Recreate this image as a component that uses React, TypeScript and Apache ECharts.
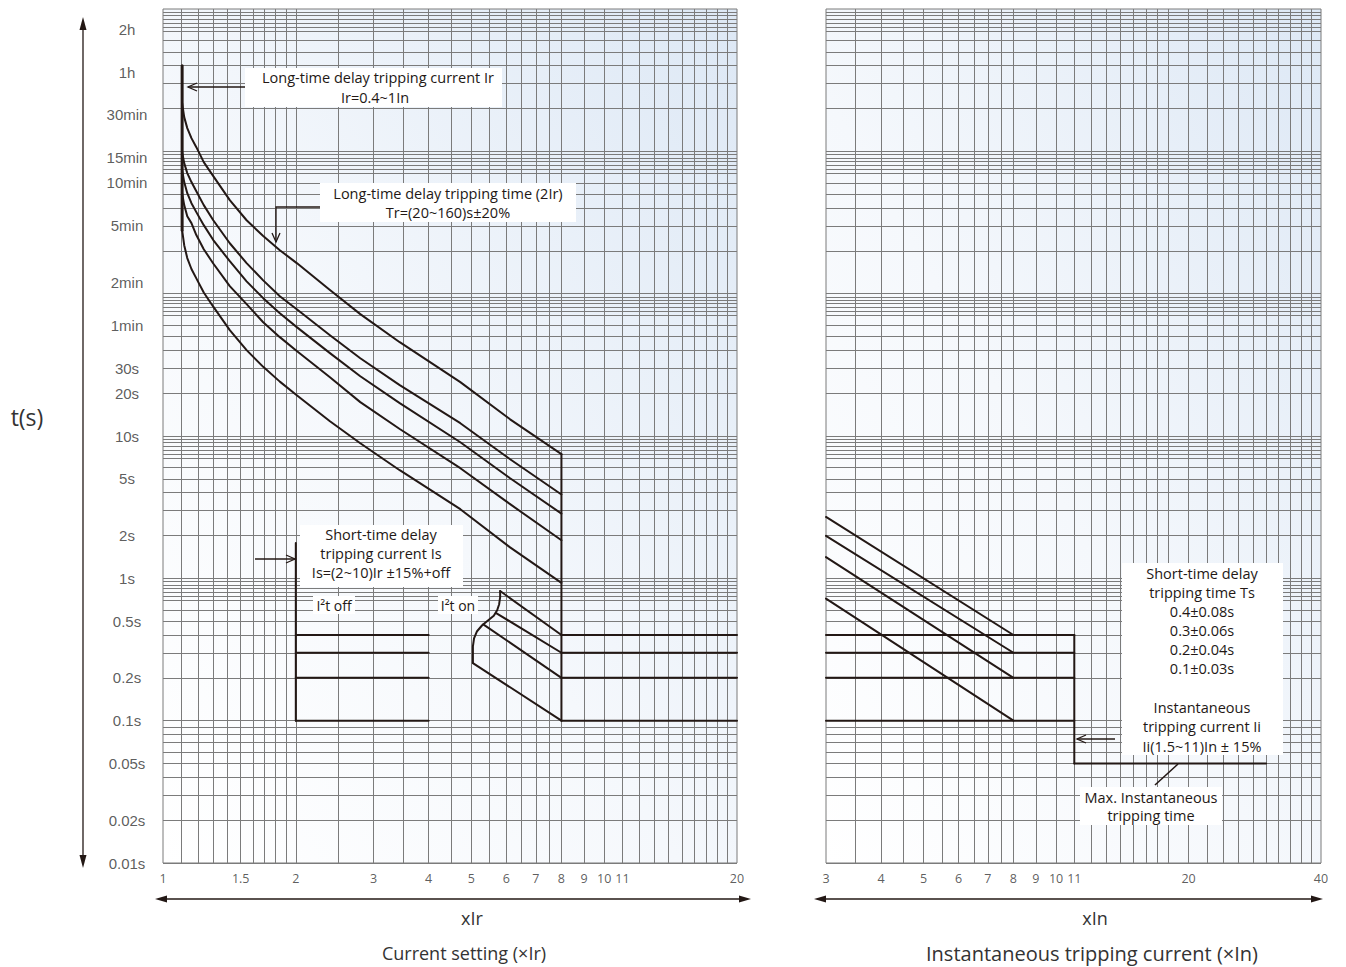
import React, { useEffect, useRef } from "react";
import * as echarts from "echarts";

// ---------- tick labels ----------
const yTickValues = [7200, 3600, 1800, 900, 600, 300, 120, 60, 30, 20, 10, 5, 2, 1, 0.5, 0.2, 0.1, 0.05, 0.02, 0.01];
const yTickLabels = ["2h", "1h", "30min", "15min", "10min", "5min", "2min", "1min", "30s", "20s", "10s", "5s", "2s", "1s", "0.5s", "0.2s", "0.1s", "0.05s", "0.02s", "0.01s"];
const leftXTicks = [1, 1.5, 2, 3, 4, 5, 6, 7, 8, 9, 10, 11, 20];
const rightXTicks = [3, 4, 5, 6, 7, 8, 9, 10, 11, 20, 40];

// ---------- log paper grid ----------
const gridDecades = [0.01, 0.1, 1, 10, 100, 1000];
const gridMultipliers = [1, 2, 3, 4, 5, 6, 7, 7.5, 8, 8.5, 9, 9.5];
const leftGridX = [1.1, 1.2, 1.3, 1.4, 1.5, 1.6, 1.7, 1.8, 1.9, 2, 2.5, 3, 3.5, 4, 4.5, 5, 5.5, 6, 6.5, 7, 7.5, 8, 9, 10, 11, 12, 13, 14, 15, 16, 17, 18, 19];
const rightGridX = [3.5, 4, 4.5, 5, 5.5, 6, 6.5, 7, 7.5, 8, 9, 10, 11, 12, 13, 14, 15, 16, 17, 18, 20, 22, 24, 26, 28, 30, 32, 34, 36, 38];

// ---------- long-time delay (left panel) ----------
const longTimeVertical = [[1.105, 4000], [1.105, 279]];
const curveTr20 = [[1.105, 279], [1.117, 219], [1.135, 178], [1.16, 149], [1.19, 128], [1.237, 102], [1.3, 81], [1.417, 55.4], [1.547, 40.1], [1.687, 30.6], [1.84, 24.1], [2.01, 19.35], [2.39, 12.7], [2.8, 8.9], [3.44, 5.75], [4.72, 3.06], [6.12, 1.65], [8, 0.93]];
const curveTr40 = [[1.105, 508], [1.117, 419], [1.135, 350], [1.16, 313], [1.19, 258], [1.237, 205], [1.3, 163], [1.417, 113], [1.547, 84.4], [1.687, 63], [1.84, 49.5], [2.01, 39.5], [2.39, 25.9], [2.8, 17.3], [3.44, 11.2], [4.72, 5.94], [6.12, 3.32], [8, 1.85]];
const curveTr60 = [[1.105, 738], [1.117, 608], [1.135, 508], [1.16, 432], [1.19, 374], [1.237, 303], [1.3, 238], [1.417, 169], [1.547, 122], [1.687, 93], [1.84, 72.9], [2.01, 58.2], [2.39, 38.2], [2.8, 26.3], [3.44, 17], [4.72, 9.04], [6.12, 5.05], [8, 2.85]];
const curveTr80 = [[1.105, 987], [1.117, 826], [1.135, 703], [1.16, 608], [1.19, 525], [1.237, 419], [1.3, 328], [1.417, 226], [1.547, 164], [1.687, 124], [1.84, 96], [2.01, 77.8], [2.39, 51.1], [2.8, 35.2], [3.44, 22.75], [4.72, 12.3], [6.12, 6.87], [8, 3.88]];
const curveTr160 = [[1.105, 2182], [1.117, 1739], [1.135, 1456], [1.16, 1238], [1.19, 1070], [1.237, 840], [1.3, 669], [1.417, 454], [1.547, 328], [1.687, 254], [1.84, 202], [2.01, 164], [2.39, 106], [2.8, 71.8], [3.44, 45.6], [4.72, 23.9], [6.12, 13.1], [8, 7.45]];
const longTimeCutoff = [[8, 7.45], [8, 0.1]];

// ---------- short-time delay (left panel) ----------
const shortTimeLevels = [0.4, 0.3, 0.2, 0.1];
const shortTimeVertical = [[2, 1.77], [2, 0.1]];
const i2tOffRange = [2, 4];
const i2tOnBoundary = [[5.81, 0.814], [5.81, 0.737], [5.78, 0.658], [5.72, 0.597], [5.62, 0.546], [5.46, 0.508], [5.29, 0.468], [5.15, 0.425], [5.07, 0.379], [5.04, 0.333], [5.04, 0.288], [5.04, 0.254]];
const i2tOnStarts = [[5.81, 0.814], [5.69, 0.57], [5.32, 0.475], [5.04, 0.254]];
const i2tOnEndX = 8;
const leftFlatRange = [8, 20];

// ---------- right panel ----------
const rightDiagStarts = [[3, 2.7], [3, 1.99], [3, 1.41], [3, 0.72]];
const rightDiagEndX = 8;
const rightFlatRange = [3, 11];
const instVertical = [[11, 0.4], [11, 0.05]];
const instFlat = [[11, 0.05], [30, 0.05]];

const INK = "#231815";
const GRIDC = "#7b7b7b";
const FONT = "Liberation Sans";
const AFONT = "Open Sans";

function seg(data: number[][], g: number, width = 2) {
  return {
    type: "line",
    xAxisIndex: g,
    yAxisIndex: g,
    data,
    symbol: "none",
    showSymbol: false,
    silent: true,
    smooth: false,
    lineStyle: { color: INK, width, join: "round", cap: "round" },
    z: 5,
  };
}

function gridSeries(g: number, xs: number[], ys: number[]) {
  return {
    type: "line",
    xAxisIndex: g,
    yAxisIndex: g,
    data: [],
    symbol: "none",
    silent: true,
    z: 1,
    markLine: {
      silent: true,
      symbol: "none",
      label: { show: false },
      lineStyle: { color: GRIDC, width: 1, type: "solid" },
      emphasis: { disabled: true },
      data: [...xs.map((v) => ({ xAxis: v })), ...ys.map((v) => ({ yAxis: v }))],
    },
  };
}

function tickSeries(g: number, data: any[], offset: number[], fontSize: number, family: string) {
  return {
    type: "scatter",
    xAxisIndex: g,
    yAxisIndex: g,
    symbolSize: 1,
    itemStyle: { color: "rgba(0,0,0,0)" },
    silent: true,
    clip: false,
    z: 6,
    data,
    label: {
      show: true,
      formatter: "{b}",
      position: "inside",
      offset,
      color: "#333",
      fontSize,
      fontFamily: family,
      align: "center",
      verticalAlign: "middle",
    },
  };
}

function txt(text: string, x: number, y: number, size = 14.5, extra: any = {}) {
  return {
    type: "text",
    z: 100,
    style: { text, x, y, align: "center", verticalAlign: "middle", fontSize: size, fontFamily: AFONT, fill: INK, ...extra },
  };
}
function box(x: number, y: number, w: number, h: number) {
  return { type: "rect", z: 90, shape: { x, y, width: w, height: h }, style: { fill: "#ffffff" } };
}
function ln(x1: number, y1: number, x2: number, y2: number, w = 1.3) {
  return { type: "line", z: 100, shape: { x1, y1, x2, y2 }, style: { stroke: INK, lineWidth: w } };
}
function pl(points: number[][], w = 1.3) {
  return { type: "polyline", z: 100, shape: { points }, style: { stroke: INK, lineWidth: w, fill: null } };
}
function tri(points: number[][]) {
  return { type: "polygon", z: 100, shape: { points }, style: { fill: INK } };
}

export default function App() {
  const ref = useRef<HTMLDivElement>(null);
  useEffect(() => {
    document.body.style.margin = "0";
    const chart = echarts.init(ref.current as HTMLDivElement, null, { renderer: "svg" });
    const gridY: number[] = [];
    gridDecades.forEach((d) => gridMultipliers.forEach((m) => gridY.push(+(d * m).toPrecision(6))));
    const bg = new echarts.graphic.LinearGradient(0, 1, 1, 0, [
      { offset: 0, color: "#ffffff" },
      { offset: 0.45, color: "#f5f8fc" },
      { offset: 1, color: "#dde8f5" },
    ]);
    const series: any[] = [
      gridSeries(0, leftGridX, gridY),
      gridSeries(1, rightGridX, gridY),
      seg(longTimeVertical, 0, 3),
      seg(curveTr20, 0, 2),
      seg(curveTr40, 0, 2),
      seg(curveTr60, 0, 2),
      seg(curveTr80, 0, 2),
      seg(curveTr160, 0, 2),
      seg(longTimeCutoff, 0, 2),
      seg(shortTimeVertical, 0, 2),
      seg(i2tOnBoundary, 0, 2),
      ...shortTimeLevels.map((l) => seg([[i2tOffRange[0], l], [i2tOffRange[1], l]], 0, 2)),
      ...shortTimeLevels.map((l, i) => seg([i2tOnStarts[i], [i2tOnEndX, l]], 0, 2)),
      ...shortTimeLevels.map((l) => seg([[leftFlatRange[0], l], [leftFlatRange[1], l]], 0, 2)),
      ...shortTimeLevels.map((l, i) => seg([rightDiagStarts[i], [rightDiagEndX, l]], 1, 2)),
      ...shortTimeLevels.map((l) => seg([[rightFlatRange[0], l], [rightFlatRange[1], l]], 1, 2)),
      seg(instVertical, 1, 2),
      seg(instFlat, 1, 2),
      tickSeries(0, yTickValues.map((v, i) => ({ name: yTickLabels[i], value: [1, v] })), [-36, 0], 15, FONT),
      tickSeries(0, leftXTicks.map((v) => ({ name: String(v), value: [v, 0.01] })), [0, 15], 12.5, AFONT),
      tickSeries(1, rightXTicks.map((v) => ({ name: String(v), value: [v, 0.01] })), [0, 15], 12.5, AFONT),
    ];
    const axisCommon = {
      type: "log",
      logBase: 10,
      axisLine: { show: false },
      axisTick: { show: false },
      axisLabel: { show: false },
      splitLine: { show: false },
      minorSplitLine: { show: false },
    };
    const graphic: any[] = [
      // vertical axis arrow
      ln(83, 26, 83, 860, 1.3),
      tri([[83, 17], [79.5, 30], [86.5, 30]]),
      tri([[83, 868], [79.5, 855], [86.5, 855]]),
      txt("t(s)", 27, 417, 23, { fill: "#333", fontFamily: AFONT }),
      // horizontal arrows
      ln(162, 899, 744, 899, 1.3),
      tri([[155, 899], [167, 895.5], [167, 902.5]]),
      tri([[751, 899], [739, 895.5], [739, 902.5]]),
      ln(821, 899, 1316, 899, 1.3),
      tri([[814, 899], [826, 895.5], [826, 902.5]]),
      tri([[1323, 899], [1311, 895.5], [1311, 902.5]]),
      txt("xIr", 472, 918, 18, { fill: "#333" }),
      txt("xIn", 1095, 918, 18, { fill: "#333" }),
      txt("Current setting (×Ir)", 464, 953, 18, { fill: "#333" }),
      txt("Instantaneous tripping current (×In)", 1092, 953, 20, { fill: "#333" }),
      // box 1
      box(245, 68, 257, 39),
      txt("Long-time delay tripping current Ir", 378, 77),
      txt("Ir=0.4~1In", 375, 97),
      ln(188, 87, 245, 87),
      pl([[197, 83], [188, 87], [197, 91]]),
      // box 2
      box(320, 183, 256, 39),
      txt("Long-time delay tripping time (2Ir)", 448, 193),
      txt("Tr=(20~160)s±20%", 448, 212),
      pl([[320, 207], [276, 207], [276, 242]]),
      pl([[272, 233], [276, 242], [280, 233]]),
      // box 3
      box(300, 525, 163, 62),
      txt("Short-time delay", 381, 534),
      txt("tripping current Is", 381, 553),
      txt("Is=(2~10)Ir ±15%+off", 381, 572),
      ln(255, 559, 295, 559),
      pl([[286, 555], [295, 559], [286, 563]]),
      // I2t labels
      box(313, 596, 42, 18),
      txt("I²t off", 334, 605, 14),
      box(438, 596, 40, 18),
      txt("I²t on", 458, 605, 14),
      // box 5
      box(1122, 563, 161, 192),
      txt("Short-time delay", 1202, 573),
      txt("tripping time Ts", 1202, 592),
      txt("0.4±0.08s", 1202, 611),
      txt("0.3±0.06s", 1202, 630),
      txt("0.2±0.04s", 1202, 649),
      txt("0.1±0.03s", 1202, 668),
      txt("Instantaneous", 1202, 707),
      txt("tripping current Ii", 1202, 726),
      txt("Ii(1.5~11)In ± 15%", 1202, 746),
      ln(1077, 739, 1115, 739),
      pl([[1086, 735], [1077, 739], [1086, 743]]),
      // box 6
      box(1080, 787, 142, 38),
      txt("Max. Instantaneous", 1151, 797),
      txt("tripping time", 1151, 815),
      ln(1155, 785, 1178, 764, 1.6),
    ];
    chart.setOption({
      animation: false,
      backgroundColor: "#ffffff",
      grid: [
        { left: 163, top: 9, width: 574, height: 854, show: true, backgroundColor: bg, borderColor: GRIDC, borderWidth: 1 },
        { left: 826, top: 9, width: 495, height: 854, show: true, backgroundColor: bg, borderColor: GRIDC, borderWidth: 1 },
      ],
      xAxis: [
        { ...axisCommon, gridIndex: 0, min: 1, max: 20 },
        { ...axisCommon, gridIndex: 1, min: 3, max: 40 },
      ],
      yAxis: [
        { ...axisCommon, gridIndex: 0, min: 0.01, max: 10000 },
        { ...axisCommon, gridIndex: 1, min: 0.01, max: 10000 },
      ],
      series,
      graphic,
    });
    return () => chart.dispose();
  }, []);
  return <div ref={ref} style={{ width: 1346, height: 967 }} />;
}
